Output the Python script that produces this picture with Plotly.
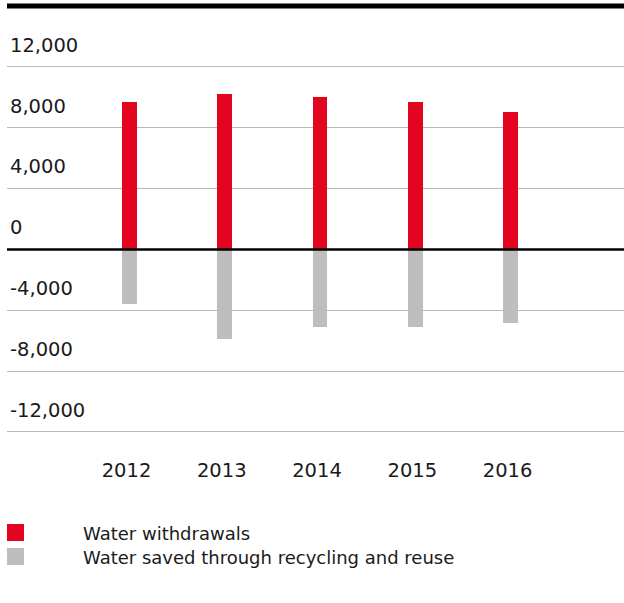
import plotly.graph_objects as go

years = ["2012", "2013", "2014", "2015", "2016"]
withdrawals = [9690, 10240, 10040, 9690, 9010]
saved = [-3620, -5860, -5110, -5110, -4850]
tick_vals = [-12000, -8000, -4000, 0, 4000, 8000, 12000]
tick_text = ["-12,000", "-8,000", "-4,000", "0", "4,000", "8,000", "12,000"]
series_names = ["Water withdrawals", "Water saved through recycling and reuse"]

RED = "#e3051f"
GRAY = "#bebebe"
TXT = "#1a1a1a"
FONT = "DejaVu Sans"

W, H = 624, 603
ML, MR, MT, MB = 7, 0, 6, 170

fig = go.Figure()
fig.add_trace(go.Bar(x=years, y=withdrawals, name=series_names[0],
                     marker=dict(color=RED, line=dict(width=0)), width=0.154,
                     showlegend=False))
fig.add_trace(go.Bar(x=years, y=saved, name=series_names[1],
                     marker=dict(color=GRAY, line=dict(width=0)), width=0.154,
                     showlegend=False))

# zero line and top rule
fig.add_shape(type="line", xref="paper", yref="y", x0=0, x1=1, y0=0, y1=0,
              line=dict(color="black", width=2.5), layer="above")
fig.add_shape(type="line", xref="paper", yref="paper", x0=0, x1=1, y0=1, y1=1,
              line=dict(color="black", width=5), layer="above")

# manual legend
pw = W - ML - MR
ph = H - MT - MB
def px_x(p):
    return (p - ML) / pw
def px_y(p):
    return (H - MB - p) / ph

legend_rows = [(RED, 524, 541, 533.5), (GRAY, 548, 565, 557.5)]
for (col, y0, y1, yc), name in zip(legend_rows, series_names):
    fig.add_shape(type="rect", xref="paper", yref="paper",
                  x0=px_x(7), x1=px_x(24), y0=px_y(y1), y1=px_y(y0),
                  fillcolor=col, line=dict(width=0))
    fig.add_annotation(xref="paper", yref="paper", x=px_x(81), y=px_y(yc),
                       text=name, showarrow=False, xanchor="left", yanchor="middle",
                       font=dict(family=FONT, size=18, color=TXT))

fig.update_layout(
    width=W, height=H,
    margin=dict(l=ML, r=MR, t=MT, b=MB, pad=0),
    plot_bgcolor="white", paper_bgcolor="white",
    barmode="relative",
    bargap=0,
    font=dict(family=FONT, color=TXT),
    showlegend=False,
    xaxis=dict(type="category", range=[-1.286, 5.191], showgrid=False,
               showline=False, zeroline=False, ticks="",
               tickfont=dict(family=FONT, size=19.5, color=TXT),
               ticklabelstandoff=23, ticklabelshift=-3),
    yaxis=dict(range=[-12070, 16000], tickvals=tick_vals, ticktext=tick_text,
               showgrid=True, gridcolor="#b8b8b8", gridwidth=1,
               zeroline=False, showline=False, ticks="",
               ticklabelposition="inside", ticklabelshift=-22,
               ticklabelstandoff=0,
               tickfont=dict(family=FONT, size=19.5, color=TXT)),
)

fig.write_html("out.html",
               config={"displayModeBar": False},
               post_script="document.body.style.margin='0';document.body.style.overflow='hidden';")
